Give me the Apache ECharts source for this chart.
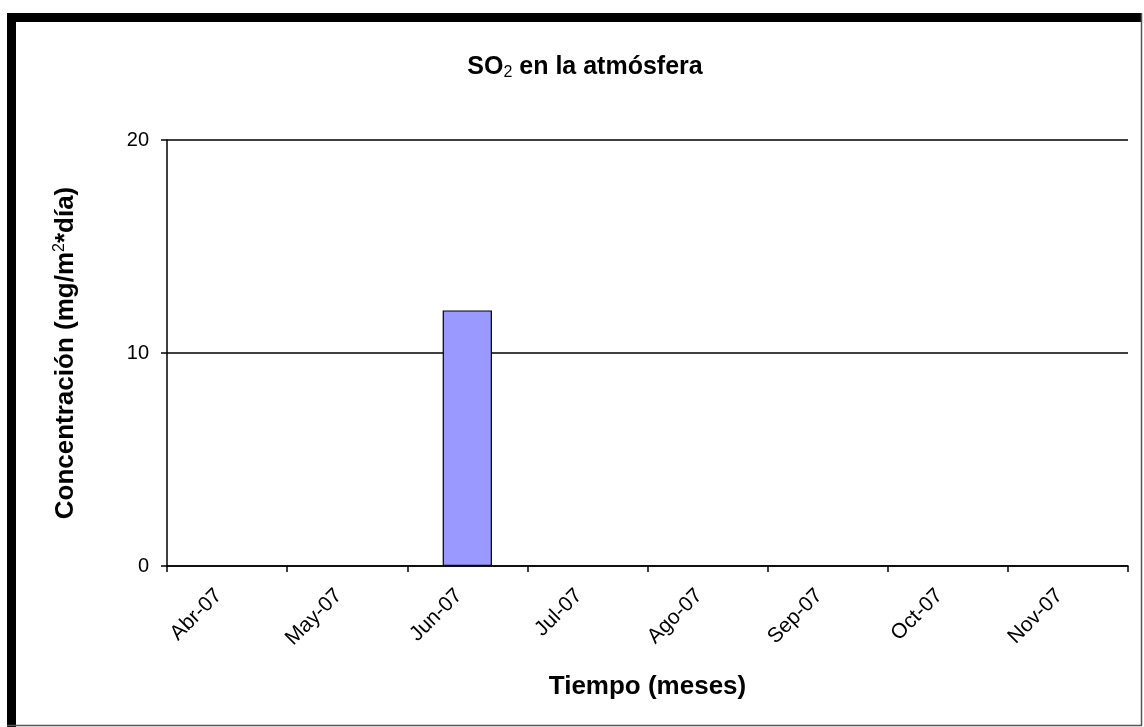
<!DOCTYPE html>
<html>
<head>
<meta charset="utf-8">
<script src="https://cdn.jsdelivr.net/npm/echarts@6/dist/echarts.min.js"></script>
<style>
html,body{margin:0;padding:0;background:#fff;}
#chart{width:1144px;height:727px;}
</style>
</head>
<body>
<div id="chart"></div>
<script>
const categories = ['Abr-07','May-07','Jun-07','Jul-07','Ago-07','Sep-07','Oct-07','Nov-07'];
const so2Values = [null, null, 12, null, null, null, null, null];
const yTicks = [0, 10, 20];

const FONT = '"Liberation Sans", Arial, sans-serif';
const chart = echarts.init(document.getElementById('chart'), null, {renderer:'canvas'});
chart.setOption({
  backgroundColor: '#ffffff',
  animation: false,
  title: {
    text: 'SO{sub|2} en la atmósfera',
    left: 580,
    textAlign: 'center',
    top: 49,
    textStyle: {
      fontFamily: FONT, fontSize: 25, fontWeight: 'bold', color: '#000',
      rich: { sub: { fontFamily: FONT, fontSize: 16, fontWeight: 'normal', color: '#000', verticalAlign: 'bottom', padding: [11,0,0,0] } }
    }
  },
  grid: { left: 167, right: 16, top: 140, bottom: 161, containLabel: false },
  xAxis: {
    type: 'category',
    data: categories,
    boundaryGap: true,
    name: 'Tiempo (meses)',
    nameLocation: 'middle',
    nameGap: 108,
    nameTextStyle: { fontFamily: FONT, fontSize: 26, fontWeight: 'bold', color: '#000' },
    axisLine: { lineStyle: { color: '#000', width: 1.5 } },
    axisTick: { show: true, length: 6, alignWithLabel: false, lineStyle: { color: '#000', width: 1.5 } },
    axisLabel: { rotate: 45, margin: 18, interval: 0, padding: [0, 12, 0, 0], fontFamily: FONT, fontSize: 21, color: '#000' },
    splitLine: { show: false }
  },
  yAxis: {
    type: 'value',
    min: yTicks[0], max: yTicks[yTicks.length-1], interval: 10,
    name: 'Concentración (mg/m{sup|2}*día)',
    nameLocation: 'middle',
    nameGap: 88,
    nameTextStyle: {
      fontFamily: FONT, fontSize: 26, fontWeight: 'bold', color: '#000',
      rich: { sup: { fontFamily: FONT, fontSize: 16, fontWeight: 'normal', color: '#000', verticalAlign: 'top', padding: [0,0,11,0] } }
    },
    axisLine: { show: true, lineStyle: { color: '#000', width: 1.5 } },
    axisTick: { show: true, length: 6, lineStyle: { color: '#000', width: 1.5 } },
    axisLabel: { margin: 18, fontFamily: FONT, fontSize: 20, color: '#000' },
    splitLine: { show: true, lineStyle: { color: '#000', width: 1.5 } }
  },
  series: [{
    type: 'bar',
    data: so2Values,
    barWidth: '41%',
    itemStyle: { color: '#9999FF', borderColor: '#000', borderWidth: 1.2 }
  }],
  graphic: [
    { type: 'rect', shape: { x: 7, y: 13, width: 1135, height: 9 }, style: { fill: '#000' }, silent: true },
    { type: 'rect', shape: { x: 7, y: 13, width: 9, height: 714 }, style: { fill: '#000' }, silent: true },
    { type: 'line', shape: { x1: 1141.5, y1: 13, x2: 1141.5, y2: 726 }, style: { stroke: '#555', lineWidth: 1.5 }, silent: true },
    { type: 'line', shape: { x1: 7, y1: 725.5, x2: 1142, y2: 725.5 }, style: { stroke: '#555', lineWidth: 1.5 }, silent: true }
  ]
});
</script>
</body>
</html>
